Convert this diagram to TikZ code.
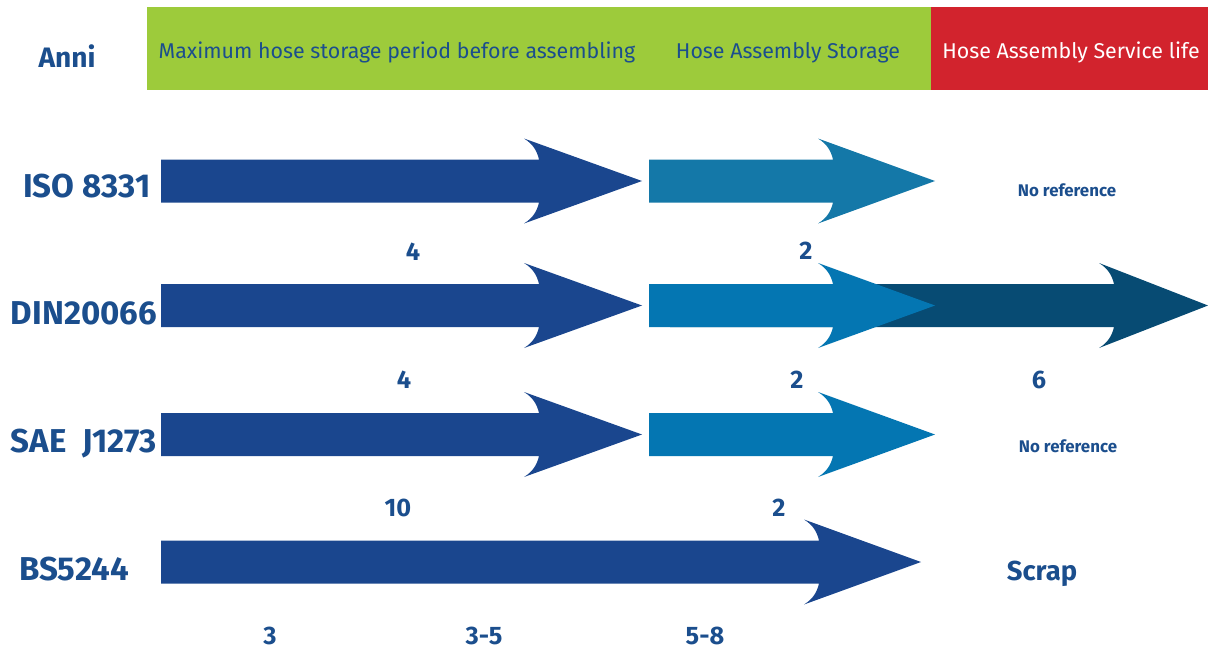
\documentclass[tikz,border=0pt]{standalone}
\usepackage{fontspec}
\setmainfont{Fira Sans}

\definecolor{barGreen}{HTML}{9DCB3B}
\definecolor{barRed}{HTML}{D2232D}
\definecolor{txtBlue}{HTML}{1B4E8D}
\definecolor{hoseBlue}{HTML}{1A468E}
\definecolor{storeTeal}{HTML}{1478A8}
\definecolor{storeBlue}{HTML}{0476B2}
\definecolor{lifeBlue}{HTML}{074B73}

% #1 start, #2 head base, #3 tip, #4 row, #5 colour
\newcommand{\hosearrow}[5]{%
  \fill[#5] (#1,#4-21.5) -- (#2+15,#4-21.5)
    .. controls (#2+13,#4-30) and (#2+9,#4-37) .. (#2,#4-42.5)
    -- (#3,#4)
    -- (#2,#4+42.5) .. controls (#2+9,#4+37) and (#2+13,#4+30) .. (#2+15,#4+21.5)
    -- (#1,#4+21.5) -- cycle;}

\begin{document}
\begin{tikzpicture}[x = 0.025cm, y = -0.025cm,
    lab/.style  = {anchor = base, text = txtBlue, font = \fontsize{23.5}{26}\selectfont\bfseries},
    num/.style  = {anchor = base, text = txtBlue, font = \fontsize{18}{20}\selectfont\bfseries},
    note/.style = {anchor = base, text = txtBlue, font = \fontsize{12}{14}\selectfont\bfseries},
    hdr/.style  = {anchor = base, text = txtBlue, font = \fontsize{15.2}{18}\selectfont}]
  \useasboundingbox (0,0) rectangle (1208,650);

  % header
  \fill[barGreen] (147,7) rectangle (931,90);
  \fill[barRed]   (931,7) rectangle (1208,90);
  \node[lab, font = \fontsize{20}{22}\selectfont\bfseries] at (67,68) (anni) {Anni};
  \node[hdr] at (397,59)  (hdrMax)   {Maximum hose storage period before assembling};
  \node[hdr] at (788,59)  (hdrStore) {Hose Assembly Storage};
  \node[hdr, text = white] at (1071,59) (hdrLife) {Hose Assembly Service life};

  % arrows
  \hosearrow{161}{524}{642}{181}{hoseBlue}
  \hosearrow{649}{818}{935}{181}{storeTeal}
  \hosearrow{161}{524}{642}{305.5}{hoseBlue}
  \hosearrow{670}{1099}{1208}{305.5}{lifeBlue}
  \hosearrow{649}{818}{935}{305.5}{storeBlue}
  \hosearrow{161}{524}{642}{434.5}{hoseBlue}
  \hosearrow{649}{818}{935}{434.5}{storeBlue}
  \hosearrow{161}{804}{921}{562}{hoseBlue}

  % standards
  \node[lab] at (87,197) (iso) {ISO 8331};
  \node[lab] at (84,324) (din) {DIN20066};
  \node[lab] at (84,452) (sae) {SAE\ \ J1273};
  \node[lab] at (74,580) (bs)  {BS5244};

  % years
  \node[num] at (413,260) (iso4) {4};
  \node[num] at (806,259) (iso2) {2};
  \node[note] at (1067,196) (isoNo) {No reference};
  \node[num] at (404,388) (din4) {4};
  \node[num] at (797,388) (din2) {2};
  \node[num] at (1039,388) (din6) {6};
  \node[num] at (398,516) (sae10) {10};
  \node[num] at (779,516) (sae2) {2};
  \node[note] at (1068,452) (saeNo) {No reference};
  \node[num, font = \fontsize{19.5}{21}\selectfont\bfseries] at (1042,580) (bsScrap) {Scrap};
  \node[num] at (270,644) (bs3)  {3};
  \node[num] at (484,644) (bs35) {3-5};
  \node[num] at (705,644) (bs58) {5-8};
\end{tikzpicture}
\end{document}
